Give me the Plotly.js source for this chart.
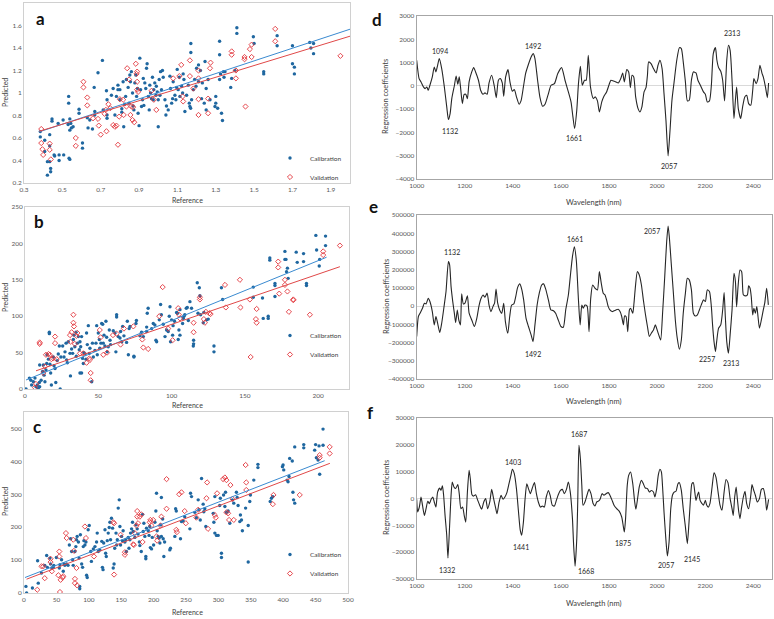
<!DOCTYPE html>
<html><head><meta charset="utf-8">
<script src="https://cdn.plot.ly/plotly-3.0.1.min.js"></script>
<style>html,body{margin:0;padding:0;background:#fff}#chart{width:774px;height:619px}</style>
</head><body><div id="chart"></div>
<script>
// ---------- DATA ----------
// Panel a (reference vs predicted)
var aCal = [[0.385,0.657],[0.385,0.61],[0.408,0.48],[0.408,0.58],[0.422,0.27],[0.422,0.39],[0.434,0.39],[0.434,0.53],[0.434,0.63],[0.439,0.33],[0.439,0.30],[0.446,0.75],[0.446,0.77],[0.457,0.45],[0.46,0.44],[0.478,0.73],[0.483,0.45],[0.483,0.40],[0.504,0.76],[0.507,0.45],[0.53,0.72],[0.535,0.42],[0.539,0.67],[0.533,0.97],[0.533,0.91],[0.539,0.77],[0.539,0.41],[0.547,0.69],[0.556,0.70],[0.544,0.73],
[0.587,0.855],[0.587,0.82],[0.605,0.555],[0.605,0.51],[0.63,0.78],[0.634,0.69],[0.643,0.76],[0.657,0.68],[0.666,1.05],[0.669,0.835],[0.669,0.805],[0.686,1.18],[0.709,1.29],[0.713,0.85],[0.73,1.02],[0.733,0.94],[0.733,0.805],[0.733,0.775],[0.756,0.98],[0.765,1.04],[0.774,0.805],[0.782,0.97],[0.79,1.07],[0.79,1.03],
[0.80,1.03],[0.80,0.94],[0.81,0.86],[0.81,0.83],[0.817,1.10],[0.82,0.70],[0.826,0.90],[0.83,0.97],[0.834,1.12],[0.843,1.05],[0.848,0.91],[0.852,1.16],[0.855,1.10],[0.86,1.19],[0.866,1.0],[0.869,0.885],[0.873,0.85],[0.878,1.09],[0.883,1.16],[0.887,0.97],[0.892,1.04],[0.895,0.82],[0.90,0.71],[0.904,1.31],[0.908,1.03],[0.913,0.88],[0.918,0.94],[0.922,1.13],[0.925,0.89],[0.93,1.09],[0.935,1.04],[0.939,1.22],[0.942,1.26],[0.948,0.97],[0.953,0.85],[0.956,1.07],[0.96,1.0],[0.965,0.95],[0.97,1.14],[0.974,0.94],[0.977,1.03],[0.982,1.09],[0.988,0.98],[0.99,1.06],[0.995,1.01],[1.0,0.94],[1.0,0.70],
[1.005,1.12],[1.009,0.98],[1.012,1.19],[1.017,1.03],[1.022,1.20],[1.026,1.14],[1.035,0.94],[1.04,0.805],[1.043,0.885],[1.052,0.85],[1.061,1.15],[1.064,1.04],[1.07,0.91],[1.075,0.95],[1.078,1.10],[1.087,0.98],[1.092,0.94],[1.096,1.05],[1.099,1.21],[1.104,1.03],[1.11,1.14],[1.113,0.97],[1.122,1.06],[1.127,1.0],[1.13,1.17],[1.134,1.12],[1.139,0.835],[1.148,0.98],[1.157,1.07],[1.162,0.91],[1.165,0.88],[1.169,0.865],[1.17,1.44],[1.17,1.36],[1.174,0.94],[1.183,1.03],[1.19,1.12],[1.197,1.06],
[1.2,1.22],[1.21,1.10],[1.21,1.25],[1.22,1.20],[1.226,0.95],[1.23,1.09],[1.24,0.91],[1.244,1.28],[1.25,1.04],[1.25,0.85],[1.26,1.12],[1.27,0.94],[1.296,0.88],[1.30,0.97],[1.30,0.91],[1.31,0.865],[1.32,1.12],[1.32,1.46],[1.32,1.34],[1.325,1.17],[1.33,0.82],[1.335,0.755],[1.34,1.19],[1.343,1.14],[1.348,1.19],[1.378,1.05],[1.383,1.13],[1.40,1.20],
[1.41,1.58],[1.41,1.53],[1.496,1.50],[1.5,1.44],[1.55,1.19],[1.55,1.17],[1.62,1.51],[1.62,1.42],[1.70,1.42],[1.70,1.26],[1.71,1.23],[1.71,1.17],[1.79,1.45],[1.796,1.40],[1.81,1.44],[1.81,1.35]];
var aVal = [[0.39,0.68],[0.39,0.555],[0.396,0.50],[0.40,0.45],[0.434,0.55],[0.434,0.495],[0.44,0.41],[0.57,0.60],[0.57,0.53],[0.61,1.10],[0.61,1.05],[0.63,0.96],[0.63,0.89],[0.66,0.775],[0.686,0.77],[0.69,0.71],[0.70,0.63],[0.72,0.815],[0.727,0.85],[0.73,0.66],[0.74,0.90],[0.75,0.865],[0.765,0.715],[0.774,0.70],[0.782,0.71],[0.79,0.54],[0.796,0.79],[0.80,0.945],[0.817,0.94],[0.82,0.805],[0.834,0.88],[0.838,1.22],[0.848,1.12],[0.855,0.805],[0.86,0.88],[0.866,0.76],[0.869,0.875],[0.875,0.74],[0.883,1.26],[0.887,1.17],[0.89,1.03],[0.89,1.10],[0.895,1.01],[0.89,1.19],[0.965,1.02],[0.977,0.94],[0.99,0.85],[1.078,1.13],[1.11,1.15],[1.12,1.25],[1.127,0.97],[1.13,0.925],[1.165,1.15],[1.165,1.29],[1.183,1.04],[1.21,1.20],[1.21,1.13],[1.21,0.945],[1.21,0.805],[1.26,0.95],[1.26,0.82],[1.27,1.22],[1.273,1.27],[1.383,1.37],[1.383,1.34],[1.405,1.20],[1.405,1.13],[1.45,1.32],[1.45,1.30],[1.455,0.88],[1.478,1.39],[1.487,1.43],[1.487,1.32],[1.61,1.57],[1.61,1.46],[1.95,1.33]];
var aCalTrend = [[0.38,0.655],[2.0,1.567]];
var aValTrend = [[0.38,0.66],[2.0,1.505]];

// Panel b
var bCal = [[0.7,0],[3,15],[4,12],[4.5,5.5],[5.7,10],[6.8,15],[7.5,3],[8.4,5.5],[9,1],[9.8,9],[10,33],[10,3],[11,12],[12,24],[12.5,33],[13,19],[13.6,10],[14.3,26],[14.8,35],[15,47],[16,41],[16.6,76],[16.6,78],[17,34],[17.5,22],[18,5.5],[19.3,44],[19.8,32],[20.5,28],[21,9],[22,39],[22.7,48],[23.4,59],[24,0],[24.5,44],[25.7,59],[26.6,44],[27.3,51],[28,63],[28.4,40],[28.9,36],[29.5,65],[30.7,49],[31,18],[31.8,55],[32.5,49],[33,68],[33.4,74],[34,58],[34.8,78],[35,45],[35.7,63],[36.4,72],[37,54],[37.5,65],[37.5,22],[38,58],[38.6,72],[38.6,22],[39.3,42],[39.8,35],[40.2,50],[41,48],[41.6,41],[42,77],[42.5,61],[43.2,87],[43.9,49],[44.3,56],[45.5,10],[46,63],[46.6,44],[47.7,53],[48.4,63],[48.9,87],[49.3,47],[50,77],[50.7,68],[51,56],[51.8,63],[52.3,90],[53,89],[53.4,63],[53.9,74],[54.5,59],[55.2,93],[55.7,71],[56.1,51],[56.8,58],[57.5,81],[58,67],[58.4,61],[60.2,80],[61.4,77],[62,51],[62.5,102],[62.5,99],[63.6,72],[64.8,70],[65.2,79],[66,65],[66.6,86],[67.5,73],[69.3,64],[69.8,93],[70.5,47],[71,83],[71.6,86],[74.3,45],[74.3,44],[75.7,90],[76,94],[78.4,73],[79.5,78],[80.7,72],[83,85],[83,79],[83.4,104],[84,111],[86.4,83],[87.5,90],[88.6,88],[89.3,67],[89.8,65],[91.6,95],[92.5,116],[93,102],[94.3,89],[95.5,72],[96.6,81],[97.7,79],[98.4,100],[98.9,113],[99.3,65],[100,95],[100.7,74],[101,87],[102,93],[103.4,105],[104,104],[104.5,68],[105,81],[105.7,109],[105.7,74],[107.5,90],[108,97],[108.4,100],[109,102],[110,111],[110.7,112],[111.4,94],[112.5,120],[113.6,111],[114.8,59],[115,67],[115,62],[117.5,146],[118,104],[118.9,139],[119.3,128],[119.8,102],[121.6,91],[122,105],[123.9,95],[125,96],[128.9,59],[128.9,51],[134,139],[134.8,123],[155.7,140],[155.7,126],[162,125],[162.5,97],[165.9,100],[165.9,97],[167,180],[167,177],[170.5,127],[170.5,145],[170.5,142],[177.3,189],[177.3,178],[178,178],[178.4,161],[179,166],[179.5,152],[185,188],[185.7,174],[190,186],[190,175],[192,145],[192,142],[198.4,211],[198.9,191],[200.7,169],[201,178],[205,210],[205,197]];
var bVal = [[6.8,2],[7.5,7],[10,64],[10,62],[12.5,22],[13.6,31],[14.3,47],[16,48],[17,47],[18,41],[19.3,42],[20.5,72],[20.5,63],[21.6,41],[30.7,74],[31,65],[31.8,78],[33,102],[33,91],[33.4,86],[34,62],[35,73],[35.7,77],[37.5,49],[39.8,49],[42,36],[43.9,42],[44.3,40],[44.8,22],[44.8,12],[51,81],[51.6,71],[53.4,47],[56,50],[60,74],[62.5,76],[65.2,61],[67.5,83],[73.9,86],[80,68],[80.7,57],[84,55],[91.6,100],[93.9,140],[97.7,83],[100.7,67],[104.5,111],[105,102],[105.7,97],[115,91],[115,78],[119.3,123],[119.3,126],[122,96],[122.7,91],[123.4,106],[125.7,104],[126.6,103],[136.4,143],[137,112],[146.6,150],[147,112],[153.4,123],[153.9,44],[157.5,96],[158,110],[158,91],[172.7,175],[172.7,167],[173.4,131],[177.3,150],[177.3,143],[179,134],[180,106],[183,123],[183,122],[194.3,102],[203.4,189],[203.4,184],[214.8,197]];
var bCalTrend = [[0.7,12.4],[205.7,181]];
var bValTrend = [[7.5,25],[214.8,168]];

// Panel c
var cCal = [[3,20],[4,0],[13,15],[21,98],[22,30],[27,61],[32,84],[35,114],[36,78],[40,106],[41,88],[43,76],[45,78],[46,84],[50,108],[54.5,76],[55.5,86],[58,101],[60.6,66],[61.7,88],[63,84],[65.8,88],[68,84],[70,146],[72,165],[73.5,126],[75,101],[76,84],[78.6,126],[80,141],[81,162],[82,172],[84,155],[85,106],[86,20],[86,13],[87,177],[89,88],[90.4,78],[91.5,141],[92.5,159],[94,146],[95.6,155],[96.6,54],[97.6,47],[99,192],[100.7,205],[103,126],[104,96],[107,134],[109.5,141],[112,155],[113,182],[114.6,126],[117,131],[120,157],[121,78],[122,71],[123,152],[125,192],[126,121],[127,111],[128.5,159],[130,182],[131.5,199],[132.6,215],[133.6,162],[135,227],[136.7,197],[137.7,76],[139,88],[140,136],[142,182],[143,146],[144,162],[145.4,258],[147,283],[148,202],[149,146],[150.6,172],[152,159],[153,189],[155.7,155],[157,162],[158,126],[160.8,169],[162,136],[163.4,162],[164.4,182],[166,195],[167.5,215],[168.5,187],[171,169],[172.7,207],[174.7,195],[176,179],[178,155],[178.8,144],[181,126],[183,239],[184,187],[185,212],[186.5,172],[188,111],[188,104],[189,197],[191.7,189],[193,175],[194,202],[195,138],[196.8,134],[198,169],[200,146],[202,215],[203.5,249],[204.5,303],[205.5,189],[207,172],[208.6,167],[209.7,152],[210.7,207],[212,172],[212,290],[214,225],[214.8,165],[215.8,111],[217,155],[225,131],[226,136],[232.8,172],[234,256],[235,249],[241.5,165],[243,217],[245.6,219],[248,232],[256,195],[257,303],[258.5,293],[263.6,245],[266,229],[268.8,283],[270,253],[272,222],[274,348],[276.5,270],[277.5,247],[279,256],[280.6,202],[292,242],[293,215],[294.5,182],[294.5,293],[297,175],[299.6,175],[302,266],[303,288],[304.7,121],[304.7,108],[308,298],[310,263],[311,306],[312.4,245],[315,249],[317.6,212],[321.7,283],[323.7,273],[327.8,306],[329,290],[330.4,266],[333,217],[334,237],[335.6,222],[337,189],[342,258],[346,205],[346,94],[348.4,278],[349.4,298],[354.6,343],[361,391],[361,381],[380,278],[381.8,288],[384,293],[398.8,384],[399.8,389],[400.8,374],[406,343],[407.5,338],[409,354],[410,409],[414,401],[415,306],[416,283],[417.8,444],[417.8,273],[431.7,451],[431.7,441],[448.6,434],[450,451],[451.2,411],[453.8,404],[455.3,447],[456.3,361],[461.5,449],[461.5,498]];
var cVal = [[20.5,10],[27,81],[29.8,81],[32,45],[41,104],[41,94],[43,66],[53,54],[54.5,111],[54.5,126],[55.5,3],[56.5,40],[59.6,47],[60.6,51],[64.7,182],[65.8,167],[76,162],[77,128],[78.6,43],[78.6,30],[81,76],[82,23],[94,202],[95.6,167],[108,111],[137.7,215],[139,212],[139,56],[149,177],[155.7,124],[155.7,116],[168.5,148],[169.6,146],[171,182],[173.7,205],[174.7,249],[174.7,232],[176,212],[178.8,232],[181,239],[183,155],[194,215],[195,222],[196.8,205],[199.4,222],[204.5,172],[205.5,159],[210.7,205],[212,232],[220,346],[220,256],[235,192],[236,185],[239.5,300],[243,306],[248,249],[249.7,212],[266,229],[268.8,253],[281.6,288],[282.6,336],[284,195],[294.5,237],[296,229],[298,303],[307.3,346],[310,351],[312.4,343],[312.4,245],[315,242],[316.5,222],[318.6,328],[321.7,286],[323.7,222],[342,389],[343,336],[343,313],[384,270],[385,298],[425.5,298],[456.3,411],[456.3,419],[471.7,444],[471.7,424]];
var cCalTrend = [[1.5,47],[464,402]];
var cValTrend = [[4,42],[472,394]];

// Panel d (wavelength nm, regression coefficient)
var dSpec = [[1000,1100],[1010,312],[1018,169],[1028,-46],[1035,-117],[1042,-46],[1048,-189],[1055,26],[1065,384],[1073,813],[1080,598],[1087,884],[1094,1171],[1104,741],[1115,-46],[1125,-904],[1132,-1448],[1139,-1191],[1146,-547],[1157,26],[1164,426],[1171,69],[1177,384],[1183,-117],[1190,-761],[1197,-375],[1204,-361],[1211,-547],[1218,169],[1229,598],[1237,784],[1245,598],[1257,240],[1266,-189],[1276,-361],[1284,-303],[1293,-361],[1301,126],[1312,455],[1323,-17],[1331,-504],[1340,240],[1348,312],[1356,126],[1362,-446],[1370,384],[1380,698],[1388,169],[1398,-232],[1406,-160],[1416,-504],[1426,-790],[1434,-647],[1444,-46],[1453,527],[1465,927],[1476,1242],[1485,1385],[1492,1171],[1503,240],[1513,-504],[1524,-876],[1534,-790],[1548,-332],[1559,26],[1573,97],[1587,527],[1603,784],[1617,240],[1631,-260],[1642,-690],[1650,-1334],[1657,-1832],[1666,-1047],[1673,97],[1681,841],[1689,26],[1698,240],[1705,240],[1714,1314],[1723,-46],[1735,-547],[1743,-475],[1752,-647],[1760,-1119],[1770,-690],[1779,-446],[1790,-260],[1801,69],[1808,240],[1818,212],[1829,169],[1839,126],[1849,312],[1857,555],[1864,169],[1874,698],[1882,598],[1889,-74],[1896,455],[1903,384],[1911,-475],[1921,-976],[1929,-1119],[1937,-904],[1946,-260],[1954,-74],[1960,455],[1965,1027],[1975,956],[1985,741],[1996,555],[2004,884],[2012,1099],[2021,741],[2029,-332],[2037,-1477],[2046,-3008],[2054,-1903],[2062,-618],[2071,169],[2082,1099],[2093,1641],[2101,1599],[2109,1027],[2118,169],[2126,-647],[2134,-618],[2143,240],[2151,598],[2162,555],[2170,240],[2182,-17],[2193,-260],[2201,-361],[2209,-690],[2218,-647],[2226,26],[2234,1385],[2243,1641],[2249,1099],[2256,784],[2265,627],[2273,240],[2281,-647],[2290,1099],[2297,1743],[2304,1527],[2312,240],[2320,-1405],[2326,-618],[2331,-46],[2338,-976],[2348,-1405],[2356,-904],[2365,-475],[2373,-403],[2381,-761],[2390,-833],[2398,-189],[2403,312],[2412,97],[2420,312],[2428,884],[2437,527],[2442,384],[2451,-46],[2459,-504],[2464,126]];
var dPeaks = [["1094",1097,1500],["1132",1139,-1925],["1492",1482,1727],["1661",1656,-2250],["2057",2051,-3440],["2313",2310,2258]];

// Panel e
var eSpec = [[1000,-167000],[1007,-57000],[1014,-39000],[1024,-12000],[1032,16000],[1039,12000],[1048,43000],[1055,25000],[1065,-30000],[1073,-103000],[1080,-57000],[1087,-94000],[1096,-145000],[1104,-94000],[1114,0],[1122,80000],[1132,244000],[1137,226000],[1143,107000],[1150,25000],[1157,-43000],[1162,-90000],[1169,-21000],[1175,-76000],[1182,-103000],[1187,67000],[1194,12000],[1201,16000],[1211,56000],[1218,-39000],[1229,-76000],[1240,-112000],[1251,-61000],[1259,0],[1268,43000],[1276,61000],[1284,49000],[1293,71000],[1301,6000],[1309,-30000],[1318,0],[1324,16000],[1330,94000],[1337,16000],[1345,-21000],[1354,-39000],[1362,16000],[1369,-85000],[1379,-149000],[1387,-57000],[1395,6000],[1404,12000],[1412,52000],[1420,103000],[1429,122000],[1437,92000],[1445,34000],[1455,-67000],[1465,-112000],[1476,-158000],[1484,-195000],[1492,-103000],[1501,6000],[1510,71000],[1520,116000],[1528,122000],[1537,92000],[1548,34000],[1558,-21000],[1569,-25000],[1578,-39000],[1589,-76000],[1600,-112000],[1610,-116000],[1620,-21000],[1631,61000],[1639,162000],[1648,272000],[1656,326000],[1664,253000],[1673,34000],[1680,-103000],[1687,6000],[1693,-12000],[1700,6000],[1709,0],[1717,-140000],[1724,43000],[1732,116000],[1742,98000],[1752,89000],[1760,189000],[1768,125000],[1776,71000],[1783,62000],[1790,34000],[1797,-3000],[1804,-21000],[1813,-30000],[1821,-26000],[1829,-21000],[1838,-17000],[1846,-30000],[1853,-57000],[1860,-103000],[1865,-54000],[1871,-57000],[1878,-140000],[1885,-21000],[1890,-12000],[1899,-39000],[1904,16000],[1910,107000],[1918,189000],[1926,171000],[1935,116000],[1943,34000],[1951,-39000],[1960,-112000],[1968,-167000],[1976,-149000],[1985,-131000],[1993,-103000],[1998,-121000],[2007,-158000],[2015,-186000],[2023,-39000],[2032,162000],[2040,354000],[2046,440000],[2051,381000],[2059,235000],[2068,71000],[2076,-76000],[2084,-176000],[2093,-237000],[2101,-186000],[2109,-39000],[2118,71000],[2126,153000],[2134,144000],[2143,89000],[2151,-39000],[2159,-54000],[2168,-48000],[2176,-21000],[2184,7000],[2193,34000],[2201,25000],[2209,89000],[2218,80000],[2226,-3000],[2231,-103000],[2237,-195000],[2243,-249000],[2248,-195000],[2256,-121000],[2265,-103000],[2273,-21000],[2279,74000],[2284,-57000],[2290,-195000],[2297,-259000],[2304,-158000],[2312,-21000],[2320,180000],[2326,135000],[2331,-3000],[2337,107000],[2345,198000],[2352,189000],[2359,62000],[2367,56000],[2376,62000],[2381,111000],[2387,98000],[2392,52000],[2398,-48000],[2403,-12000],[2409,-39000],[2415,-3000],[2420,-57000],[2426,-121000],[2434,-76000],[2442,-21000],[2448,16000],[2456,98000],[2463,7000]];
var ePeaks = [["1132",1146,299000],["1661",1659,367000],["2057",1978,413000],["1492",1483,-264000],["2257",2209,-291000],["2313",2306,-313000]];

// Panel f
var fSpec = [[1000,-300],[1004,-5000],[1011,-3200],[1018,560],[1024,-2500],[1032,-6300],[1039,-3800],[1046,-1000],[1053,-1900],[1060,-300],[1067,560],[1073,-1300],[1080,-3200],[1087,2400],[1096,3900],[1101,3000],[1107,4700],[1112,1200],[1118,-6300],[1125,-13700],[1130,-22200],[1137,-10000],[1143,1200],[1148,6100],[1155,4300],[1162,3700],[1171,5200],[1177,1800],[1184,-3800],[1191,-3200],[1198,-6500],[1204,-8800],[1211,2400],[1218,10500],[1223,7400],[1230,1400],[1237,900],[1245,1400],[1254,-700],[1262,-2500],[1270,-4000],[1279,-1300],[1287,-60],[1295,-3800],[1304,-1300],[1312,3400],[1320,-60],[1329,-3800],[1334,-5700],[1343,-1300],[1351,1200],[1359,-300],[1367,560],[1376,2400],[1384,5500],[1392,8600],[1398,10900],[1406,9300],[1415,3700],[1423,-4400],[1431,-11900],[1437,-13700],[1444,-8800],[1451,-60],[1458,5500],[1465,3700],[1473,1800],[1481,3900],[1490,5900],[1498,1800],[1506,-1300],[1515,-3200],[1523,-2800],[1531,-3200],[1539,560],[1548,3000],[1556,900],[1564,-2500],[1573,-2800],[1581,-700],[1589,1400],[1598,3000],[1606,3400],[1614,1800],[1623,3400],[1631,6100],[1639,2400],[1648,-7500],[1653,-17500],[1659,-25200],[1666,-15000],[1670,-1300],[1675,19800],[1681,14800],[1687,4900],[1692,-2500],[1700,-1300],[1709,1400],[1717,3400],[1725,1800],[1734,-1900],[1742,-2800],[1749,-1300],[1756,-1000],[1763,-300],[1771,1800],[1779,1200],[1788,1800],[1797,2200],[1804,1200],[1813,-700],[1821,-2500],[1832,-3800],[1843,-4800],[1853,-6900],[1860,-10600],[1864,-12500],[1869,-7500],[1876,4900],[1882,8600],[1890,9900],[1899,5500],[1907,-1300],[1912,-4000],[1919,-60],[1926,4300],[1935,6800],[1943,5500],[1951,3900],[1960,3700],[1968,2400],[1976,3000],[1985,2400],[1991,560],[1998,3400],[2005,8600],[2012,10900],[2018,9900],[2023,4300],[2029,-5000],[2036,-14300],[2043,-21400],[2050,-16200],[2057,-3800],[2064,1200],[2071,2400],[2079,2700],[2087,5500],[2093,5900],[2101,3000],[2109,-3800],[2118,-10600],[2126,-16800],[2133,-8800],[2140,1200],[2145,5500],[2151,5900],[2157,2400],[2162,-700],[2168,1200],[2173,2400],[2179,-700],[2187,-1900],[2193,-2500],[2201,-700],[2206,-2300],[2213,-3200],[2220,-1900],[2229,4300],[2237,9600],[2245,8000],[2254,2400],[2262,-2500],[2270,-4400],[2279,2400],[2287,7100],[2295,5900],[2304,-60],[2312,-3800],[2317,-6300],[2323,560],[2329,4300],[2334,-60],[2340,-5000],[2345,-7500],[2351,-3800],[2359,560],[2366,2700],[2373,-1900],[2381,-3800],[2390,1200],[2395,5200],[2401,3400],[2409,1200],[2417,-1300],[2426,-60],[2434,3400],[2442,3700],[2451,-60],[2456,-4400],[2464,-300]];
var fPeaks = [["1687",1676,23900],["1403",1402,13500],["1332",1127,-26650],["1441",1432,-17960],["1668",1704,-27000],["1875",1859,-16470],["2057",2037,-24800],["2145",2144,-22550]];

var seriesNames = ["Calibration","Validation"];
var panelLetters = ["a","b","c","d","e","f"];

// ---------- BUILD ----------
var W = 774, H = 619;
function px(x){return x/W;}
function py(y){return 1-y/H;}
function col(arr,i){return arr.map(function(r){return r[i];});}

var FONT = "Lato, 'Open Sans', 'DejaVu Sans', sans-serif";
var CAL_COL = "#1f67a0", VAL_COL = "#e2353c";
var CAL_LINE = "#3a8ad0", VAL_LINE = "#e04848";

var traces = [];
function scatterPanel(cal, val, calT, valT, ax, leg){
  var xa = "x"+ax, ya = "y"+ax;
  traces.push({type:"scatter",mode:"markers",name:seriesNames[0],x:col(cal,0),y:col(cal,1),xaxis:xa,yaxis:ya,legend:leg,
    marker:{symbol:"circle",size:3.4,color:CAL_COL}});
  traces.push({type:"scatter",mode:"markers",name:seriesNames[1],x:col(val,0),y:col(val,1),xaxis:xa,yaxis:ya,legend:leg,
    marker:{symbol:"diamond-open",size:4,color:VAL_COL,line:{width:0.9,color:VAL_COL}}});
  traces.push({type:"scatter",mode:"lines",x:col(calT,0),y:col(calT,1),xaxis:xa,yaxis:ya,line:{color:CAL_LINE,width:1},showlegend:false,hoverinfo:"skip"});
  traces.push({type:"scatter",mode:"lines",x:col(valT,0),y:col(valT,1),xaxis:xa,yaxis:ya,line:{color:VAL_LINE,width:1},showlegend:false,hoverinfo:"skip"});
}
scatterPanel(aCal,aVal,aCalTrend,aValTrend,"", "legend");
scatterPanel(bCal,bVal,bCalTrend,bValTrend,"2","legend2");
scatterPanel(cCal,cVal,cCalTrend,cValTrend,"3","legend3");

function specPanel(spec, ax){
  traces.push({type:"scatter",mode:"lines",x:col(spec,0),y:col(spec,1),xaxis:"x"+ax,yaxis:"y"+ax,
    line:{color:"#262626",width:1.1,shape:"spline",smoothing:0.6},showlegend:false,hoverinfo:"skip"});
}
specPanel(dSpec,"4"); specPanel(eSpec,"5"); specPanel(fSpec,"6");

var tickFont = {family:FONT,size:6.5,color:"#595959"};
function leftX(dom, range, tick0, dtick, anchor){
  return {domain:dom,range:range,tick0:tick0,dtick:dtick,tickmode:"linear",showgrid:false,zeroline:false,
    showline:true,mirror:true,linecolor:"#d0d0d0",linewidth:1,ticks:"",tickfont:tickFont,anchor:anchor,fixedrange:true};
}
function leftY(dom, range, dtick, anchor){
  return {domain:dom,range:range,tick0:0,dtick:dtick,tickmode:"linear",showgrid:false,zeroline:false,
    showline:true,mirror:true,linecolor:"#d0d0d0",linewidth:1,ticks:"",tickfont:tickFont,anchor:anchor,fixedrange:true};
}
function rightX(dom, anchor){
  return {domain:dom,range:[1000,2477],tick0:1000,dtick:200,tickmode:"linear",showgrid:false,zeroline:false,
    showline:true,mirror:true,linecolor:"#a6a6a6",linewidth:1,ticks:"",tickfont:tickFont,anchor:anchor,fixedrange:true};
}
function rightY(dom, range, dtick, anchor){
  return {domain:dom,range:range,tick0:0,dtick:dtick,tickmode:"linear",showgrid:false,zeroline:true,zerolinecolor:"#d9d9d9",zerolinewidth:1,
    showline:true,mirror:true,linecolor:"#a6a6a6",linewidth:1,ticks:"",tickfont:tickFont,anchor:anchor,fixedrange:true,
    exponentformat:"none",tickformat:"d",separatethousands:false};
}

var LX = [px(24),px(350)];
var RX = [px(416.7),px(771.7)];
var layout = {
  width:W,height:H,margin:{l:0,r:0,t:0,b:0},paper_bgcolor:"#fff",plot_bgcolor:"#fff",
  font:{family:FONT,color:"#404040"},
  xaxis: leftX(LX,[0.3,2.0],0.3,0.2,"y"),
  yaxis: leftY([py(183),py(3)],[0.2,1.8],0.2,"x"),
  xaxis2: leftX([px(25),px(349)],[0,221],0,50,"y2"),
  yaxis2: leftY([py(389),py(207)],[0,250],50,"x2"),
  xaxis3: leftX([px(24),px(348)],[0,500],0,50,"y3"),
  yaxis3: leftY([py(593),py(412)],[0,550],100,"x3"),
  xaxis4: rightX(RX,"y4"),
  yaxis4: rightY([py(179),py(16)],[-4000,3000],1000,"x4"),
  xaxis5: rightX(RX,"y5"),
  yaxis5: rightY([py(379),py(215)],[-400000,500000],100000,"x5"),
  xaxis6: rightX(RX,"y6"),
  yaxis6: rightY([py(579),py(418)],[-30000,30000],10000,"x6"),
  annotations:[],
  showlegend:true
};
function legendAt(cy){
  return {x:px(270),y:py(cy),xanchor:"left",yanchor:"middle",bgcolor:"rgba(0,0,0,0)",borderwidth:0,
    font:{family:FONT,size:6.5,color:"#404040"},itemwidth:30,tracegroupgap:0,itemclick:false,itemdoubleclick:false};
}
layout.legend = legendAt(167.5);
layout.legend2 = legendAt(345);
layout.legend3 = legendAt(564);

var ann = layout.annotations;
function paperText(t,x,y,opt){
  var a = {text:t,xref:"paper",yref:"paper",x:px(x),y:py(y),showarrow:false,xanchor:"center",yanchor:"middle",
    font:{family:FONT,size:opt.size||7.5,color:opt.color||"#404040"}};
  if(opt.angle!==undefined) a.textangle = opt.angle;
  ann.push(a);
}
// panel letters
var letterPos = [[40,18],[39,221],[37,426],[377,20],[373,206],[370,413]];
panelLetters.forEach(function(l,i){ paperText("<b>"+l+"</b>",letterPos[i][0],letterPos[i][1],{size:17,color:"#111"}); });
// axis titles
[[200],[405],[612]].forEach(function(r){ paperText("Reference",187,r[0],{size:7}); });
[[93],[298],[502]].forEach(function(r){ paperText("Predicted",5,r[0],{size:7,angle:-90}); });
[[202],[401],[603]].forEach(function(r){ paperText("Wavelength (nm)",594,r[0],{size:7.5}); });
[[97],[297],[498]].forEach(function(r){ paperText("Regression coefficients",386,r[0],{size:7.5,angle:-90}); });
// peak labels
function peakLabels(peaks, ax){
  peaks.forEach(function(p){
    ann.push({text:p[0],x:p[1],y:p[2],xref:"x"+ax,yref:"y"+ax,showarrow:false,xanchor:"center",yanchor:"middle",
      font:{family:FONT,size:7,color:"#262626"}});
  });
}
peakLabels(dPeaks,"4"); peakLabels(ePeaks,"5"); peakLabels(fPeaks,"6");

Plotly.newPlot("chart",traces,layout,{staticPlot:true,displayModeBar:false});
</script></body></html>
